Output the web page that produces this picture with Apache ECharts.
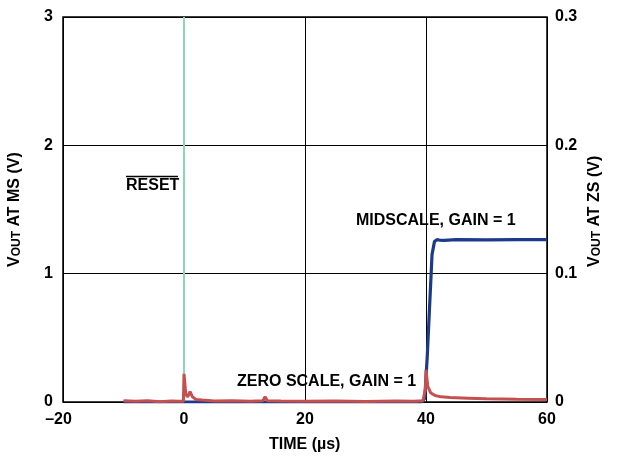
<!DOCTYPE html>
<html><head><meta charset="utf-8">
<script src="https://cdn.jsdelivr.net/npm/echarts@6/dist/echarts.min.js"></script>
<style>html,body{margin:0;padding:0;background:#fff}#c{width:620px;height:458px}</style>
</head><body><div id="c"></div>
<script>
// X axis ticks (µs)
const xTicks = [-20, 0, 20, 40, 60];
const msTicks = [0, 1, 2, 3];
const zsTicks = [0, 0.1, 0.2, 0.3];
// Midscale output (time µs, V) on left axis
const midTime = [-10, 39.3, 39.8, 40.2, 40.6, 41.0, 41.4, 41.8, 42.2, 43, 45, 50, 55, 60];
const midVolt = [0, 0, 0.03, 0.35, 0.75, 1.15, 1.25, 1.265, 1.262, 1.26, 1.265, 1.263, 1.265, 1.265];
// Zero-scale output (time µs, V) on right axis
const zsTime = [-10, -8, -6, -4, -2, -1, -0.1, 0, 0.05, 0.3, 0.6, 1.0, 1.4, 2, 3, 5, 8, 11, 13, 13.4, 13.8, 16, 20, 25, 30, 35, 38, 39.5, 39.9, 40.0, 40.3, 40.8, 41.5, 42.5, 44, 47, 50, 55, 60];
const zsVolt = [0.001, 0.0005, 0.001, 0.0002, 0.0008, 0.0005, 0.0005, 0.022, 0.022, 0.006, 0.004, 0.008, 0.004, 0.002, 0.0015, 0.0008, 0.001, 0.0005, 0.001, 0.004, 0.001, 0.0008, 0.0005, 0.0008, 0.0004, 0.0008, 0.0006, 0.001, 0.01, 0.025, 0.012, 0.007, 0.005, 0.004, 0.0035, 0.003, 0.0025, 0.0022, 0.002];
// RESET marker (µs)
const resetTime = [0, 0];
const resetVolt = [0, 3];

const midData = midTime.map((t, i) => [t, midVolt[i]]);
const zsData = zsTime.map((t, i) => [t, zsVolt[i]]);
const resetData = resetTime.map((t, i) => [t, resetVolt[i]]);

const FONT = 'Liberation Sans, Arial, sans-serif';
const F16 = 'bold 16px ' + FONT;
const lbl = {fontFamily: FONT, fontWeight: 'bold', fontSize: 16, color: '#000'};
const titleRich = {a: {font: F16, fill: '#000'}, s: {font: 'bold 12px ' + FONT, fill: '#000', padding: [5, 0, 0, 0], verticalAlign: 'bottom'}};
const chart = echarts.init(document.getElementById('c'), null, {renderer: 'canvas'});
chart.setOption({
  animation: false,
  grid: {left: 63, right: 73, top: 17, bottom: 56, show: true, borderColor: '#000', borderWidth: 1.5},
  xAxis: {
    type: 'value', min: xTicks[0], max: xTicks[xTicks.length - 1], interval: 20,
    axisLine: {show: false}, axisTick: {show: false},
    splitLine: {show: true, lineStyle: {color: '#000', width: 1}},
    axisLabel: Object.assign({margin: 10,
      formatter: v => v < 0 ? '{d|\u2013' + Math.abs(v) + '}' : String(v),
      rich: {d: {fontFamily: FONT, fontWeight: 'bold', fontSize: 16, color: '#000', padding: [0, 9, 0, 0]}}}, lbl)
  },
  yAxis: [{
    type: 'value', min: msTicks[0], max: msTicks[msTicks.length - 1], interval: 1, position: 'left',
    axisLine: {show: false}, axisTick: {show: false},
    splitLine: {show: true, lineStyle: {color: '#000', width: 1}},
    axisLabel: Object.assign({margin: 10}, lbl)
  }, {
    type: 'value', min: zsTicks[0], max: zsTicks[zsTicks.length - 1], interval: 0.1, position: 'right',
    axisLine: {show: false}, axisTick: {show: false}, splitLine: {show: false},
    axisLabel: Object.assign({margin: 8, formatter: v => v === 0 ? '0' : v.toFixed(1)}, lbl)
  }],
  series: [{
    type: 'line', data: resetData, yAxisIndex: 0, symbol: 'none',
    lineStyle: {color: '#8ed6b8', width: 2}, z: 1
  }, {
    type: 'line', data: midData, yAxisIndex: 0, symbol: 'none',
    lineStyle: {color: '#1c3a8a', width: 3.2}, z: 2
  }, {
    type: 'line', data: zsData, yAxisIndex: 1, symbol: 'none',
    lineStyle: {color: '#c4504f', width: 3}, z: 3
  }],
  graphic: [
    {type: 'text', left: 126, top: 178, style: {text: 'RESET', font: F16, fill: '#000'}},
    {type: 'line', shape: {x1: 126, y1: 176.5, x2: 178, y2: 176.5}, style: {stroke: '#000', lineWidth: 1.5}},
    {type: 'text', left: 356, top: 213, style: {text: 'MIDSCALE, GAIN = 1', font: F16, fill: '#000'}},
    {type: 'text', left: 237, top: 374, style: {text: 'ZERO SCALE, GAIN = 1', font: F16, fill: '#000'}},
    {type: 'text', left: 269, top: 437, style: {text: 'TIME (µs)', font: F16, fill: '#000'}},
    {type: 'text', x: 6, y: 267, rotation: Math.PI / 2,
      style: {text: '{a|V}{s|OUT}{a| AT MS (V)}', fill: '#000', rich: titleRich}},
    {type: 'text', x: 586, y: 267, rotation: Math.PI / 2,
      style: {text: '{a|V}{s|OUT}{a| AT ZS (V)}', fill: '#000', rich: titleRich}}
  ]
});
</script></body></html>
